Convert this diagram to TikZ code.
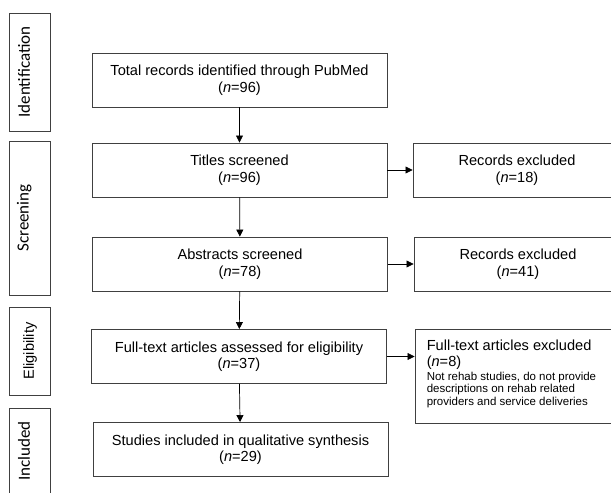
\documentclass[tikz,border=0pt]{standalone}
\usepackage{fontspec}
\setmainfont{Liberation Sans}
\newfontfamily\sidefont{Carlito}
\usetikzlibrary{arrows.meta}

\tikzset{
  box/.style={draw=black!75, line width=0.9pt, minimum width=295, minimum height=54,
    align=center, font=\fontsize{14.6}{16.5}\selectfont},
  exclbox/.style={box, minimum width=208},
  sidebox/.style={draw=black!75, line width=0.9pt, rotate=90, minimum height=41,
    font=\sidefont\fontsize{17}{19}\selectfont},
  arr/.style={-{Triangle[length=7pt,width=7pt]}, line width=0.7pt}
}

\begin{document}
\begin{tikzpicture}[x=1pt, y=-1pt]
  \useasboundingbox (0,0) rectangle (611,493);
  \clip (0,0) rectangle (611,493);

  % stage labels
  \foreach \nm/\yc/\ht/\lbl in {ident/72/118/Identification, screen/218/154/Screening, incl/451/86/Included}
    \node[sidebox, minimum width=\ht] (\nm) at (30,\yc) {\lbl};
  \node[sidebox, minimum width=88, font=\fontsize{14.6}{16.5}\selectfont] (elig) at (30,351) {Eligibility};

  % main column
  \node[box] (total) at (239.5,80) {Total records identified through PubMed\\(\textit{n}=96)};
  \node[box] (titles) at (239.5,170) {Titles screened\\(\textit{n}=96)};
  \node[box] (abstr) at (240,264) {Abstracts screened\\(\textit{n}=78)};
  \node[box] (full) at (239,356.5) {Full-text articles assessed for eligibility\\(\textit{n}=37)};
  \node[box] (incl2) at (240.5,449.5) {Studies included in qualitative synthesis\\(\textit{n}=29)};

  % exclusions
  \node[exclbox] (excl1) at (517,170) {Records excluded\\(\textit{n}=18)};
  \node[exclbox] (excl2) at (518,264) {Records excluded\\(\textit{n}=41)};
  \node[exclbox, minimum width=206, minimum height=94] (excl3) at (518,376) {};
  \node[anchor=north west, align=left, inner sep=0, font=\fontsize{14.6}{16.5}\selectfont]
    (excl3head) at ([shift={(12,11)}]excl3.north west) {Full-text articles excluded\\(\textit{n}=8)};
  \node[anchor=north west, align=left, inner sep=0, font=\fontsize{11.5}{12.6}\selectfont]
    (excl3note) at ([shift={(12,43)}]excl3.north west)
    {Not rehab studies, do not provide\\descriptions on rehab related\\providers and service deliveries};

  \draw[arr] (total) -- (titles);
  \draw[arr] (titles) -- (abstr);
  \draw[arr] (abstr) -- (full);
  \draw[arr] (full) -- (incl2);
  \draw[arr] (titles) -- (excl1);
  \draw[arr] (abstr) -- (excl2);
  \draw[arr] (full) -- (full -| excl3.west);
\end{tikzpicture}
\end{document}
